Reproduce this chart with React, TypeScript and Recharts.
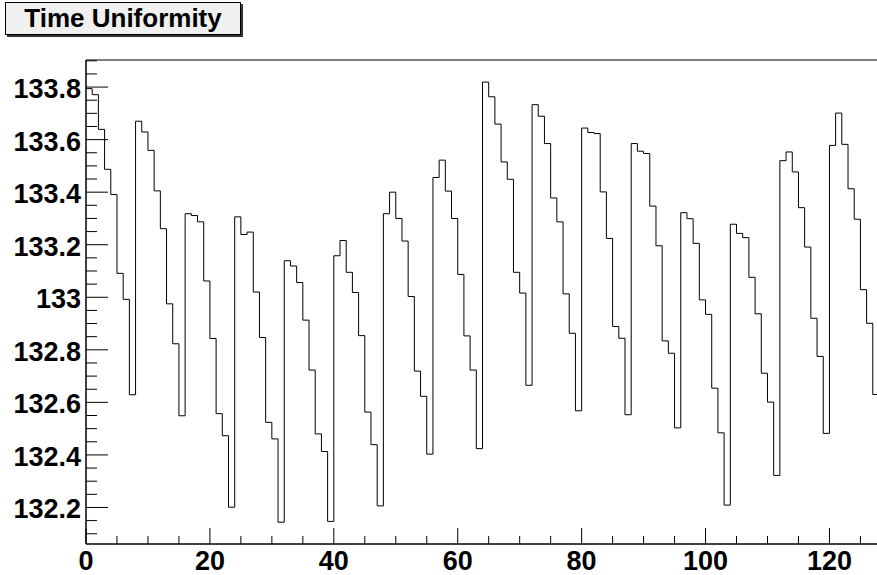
import React from 'react';
import { ComposedChart, Line, XAxis, YAxis, ReferenceArea } from 'recharts';

// bin contents, one per unit bin from 0 to 128
const binValues = [
  133.794, 133.771, 133.639, 133.487, 133.391, 133.091, 132.992, 132.629,
  133.670, 133.629, 133.559, 133.405, 133.261, 132.975, 132.823, 132.549,
  133.318, 133.311, 133.287, 133.062, 132.843, 132.557, 132.473, 132.201,
  133.306, 133.239, 133.248, 133.020, 132.847, 132.524, 132.461, 132.144,
  133.139, 133.119, 133.056, 132.913, 132.723, 132.480, 132.413, 132.147,
  133.158, 133.216, 133.095, 133.018, 132.854, 132.563, 132.439, 132.206,
  133.318, 133.400, 133.300, 133.214, 133.003, 132.719, 132.623, 132.403,
  133.456, 133.522, 133.404, 133.300, 133.087, 132.853, 132.723, 132.424,
  133.819, 133.763, 133.659, 133.515, 133.449, 133.095, 133.016, 132.665,
  133.733, 133.689, 133.585, 133.378, 133.287, 133.013, 132.863, 132.568,
  133.644, 133.627, 133.623, 133.401, 133.224, 132.889, 132.844, 132.553,
  133.585, 133.556, 133.547, 133.347, 133.196, 132.834, 132.787, 132.503,
  133.322, 133.299, 133.205, 132.990, 132.935, 132.654, 132.484, 132.209,
  133.278, 133.243, 133.227, 133.076, 132.937, 132.711, 132.601, 132.322,
  133.520, 133.553, 133.477, 133.341, 133.191, 132.920, 132.775, 132.482,
  133.578, 133.701, 133.582, 133.413, 133.297, 133.029, 132.901, 132.630,
];

const xRange = [0, 128];
const yRange = [132.061, 133.903];
const xMajorTicks = [0, 20, 40, 60, 80, 100, 120];
const yMajorTicks = [132.2, 132.4, 132.6, 132.8, 133.0, 133.2, 133.4, 133.6, 133.8];

// minor ticks: every 5 on x, every 0.05 on y
const xTicks: number[] = [];
for (let v = 0; v < 128; v += 5) xTicks.push(v);
const yTicks: number[] = [];
for (let k = 0; k <= 36; k++) yTicks.push(Math.round((132.1 + k * 0.05) * 100) / 100);

// histogram as step points; last bin repeated at the upper edge
const data = binValues.map((v, i) => ({ x: i, v }));
data.push({ x: binValues.length, v: binValues[binValues.length - 1] });

const FONT = '"Liberation Sans", Arial, Helvetica, sans-serif';

const isMajorY = (v: number) => yMajorTicks.some((m) => Math.abs(m - v) < 1e-6);

const YTick = (props: any) => {
  const { x, y, payload } = props;
  const major = isMajorY(payload.value);
  return (
    <g>
      <line x1={x} x2={x + (major ? 22 : 11)} y1={y} y2={y} stroke="#000" strokeWidth={1} />
      {major && (
        <text x={x - 5} y={y} dy={11} textAnchor="end" fontFamily={FONT} fontWeight="bold" fontSize={27} fill="#000">
          {String(Math.round(payload.value * 10) / 10)}
        </text>
      )}
    </g>
  );
};

const XTick = (props: any) => {
  const { x, y, payload } = props;
  const major = xMajorTicks.includes(payload.value);
  return (
    <g>
      <line x1={x} x2={x} y1={y} y2={y - (major ? 16 : 8)} stroke="#000" strokeWidth={1} />
      {major && (
        <text x={x} y={y} dy={26} textAnchor="middle" fontFamily={FONT} fontWeight="bold" fontSize={27} fill="#000">
          {payload.value}
        </text>
      )}
    </g>
  );
};

export default function App() {
  return (
    <div style={{ position: 'absolute', left: 0, top: 0, width: 877, height: 575, overflow: 'hidden', background: '#fff' }}>
      <ComposedChart width={880} height={575} data={data} margin={{ top: 60, right: 1, bottom: 0, left: 0 }}>
        <XAxis
          dataKey="x"
          type="number"
          domain={xRange}
          allowDataOverflow
          ticks={xTicks}
          interval={0}
          tick={<XTick />}
          tickLine={false}
          tickSize={0}
          tickMargin={0}
          height={31}
          axisLine={{ stroke: '#000' }}
        />
        <YAxis
          type="number"
          domain={yRange}
          allowDataOverflow
          ticks={yTicks}
          interval={0}
          tick={<YTick />}
          tickLine={false}
          tickSize={0}
          tickMargin={0}
          width={86}
          axisLine={{ stroke: '#000' }}
        />
        <ReferenceArea x1={xRange[0]} x2={xRange[1]} y1={yRange[0]} y2={yRange[1]} fill="none" stroke="#000" strokeWidth={1} ifOverflow="visible" />
        <Line type="stepAfter" dataKey="v" stroke="#000" strokeWidth={1} dot={false} activeDot={false} isAnimationActive={false} />
      </ComposedChart>
      <div
        style={{
          position: 'absolute',
          left: 5,
          top: 2,
          width: 234,
          height: 31,
          border: '1px solid #000',
          background: '#f0f0f0',
          boxShadow: '2px 2px 0 #333',
          fontFamily: FONT,
          fontWeight: 'bold',
          fontSize: 26,
          lineHeight: '31px',
          textAlign: 'center',
          color: '#000',
        }}
      >
        Time Uniformity
      </div>
    </div>
  );
}
